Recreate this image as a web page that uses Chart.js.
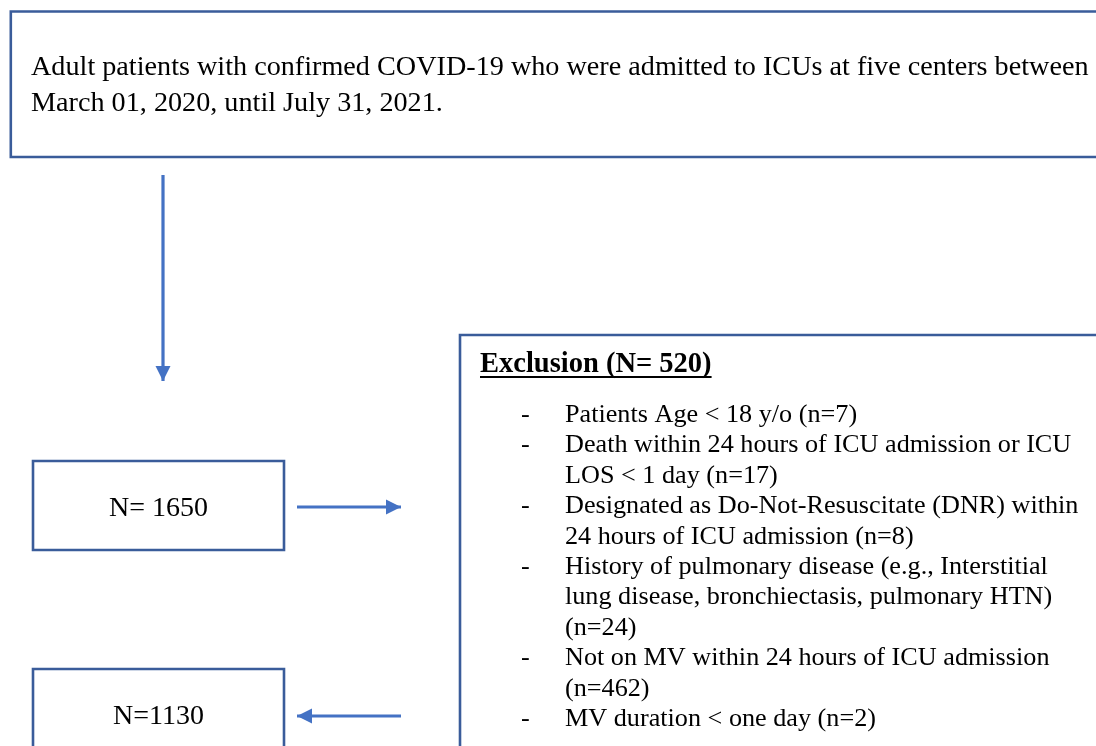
<!DOCTYPE html>
<html>
<head>
<meta charset="utf-8">
<script src="https://cdn.jsdelivr.net/npm/chart.js@4/dist/chart.umd.min.js"></script>
<style>
  html, body { margin: 0; padding: 0; background: #ffffff; }
  #wrap { width: 1096px; height: 746px; position: relative; }
</style>
</head>
<body>
<div id="wrap"><canvas id="c"></canvas></div>
<script>
// ---- Data (content of the flow diagram) ----
const studyPopulationText = [
  'Adult patients with confirmed COVID-19 who were admitted to ICUs at five centers between',
  'March 01, 2020, until July 31, 2021.'
];
const screenedN = 1650;
const includedN = 1130;
const excludedN = 520;
const exclusionCriteria = [
  ['Patients Age < 18 y/o (n=7)'],
  ['Death within 24 hours of ICU admission or ICU', 'LOS < 1 day (n=17)'],
  ['Designated as Do-Not-Resuscitate (DNR) within', '24 hours of ICU admission (n=8)'],
  ['History of pulmonary disease (e.g., Interstitial', 'lung disease, bronchiectasis, pulmonary HTN)', '(n=24)'],
  ['Not on MV within 24 hours of ICU admission', '(n=462)'],
  ['MV duration < one day (n=2)']
];
const exclusionCounts = [7, 17, 8, 24, 462, 2];

// ---- Layout (diagram coordinates on the hidden linear scales) ----
const boxes = [
  { l: 10.8, t: 11.5, r: 1120, b: 157 },   // study population
  { l: 33,   t: 461,  r: 284,  b: 550 },   // N = 1650
  { l: 33,   t: 669,  r: 284,  b: 770 },   // N = 1130
  { l: 460,  t: 335,  r: 1120, b: 770 }    // exclusion
];
const arrows = [
  { x1: 163, y1: 175, x2: 163, y2: 381 },
  { x1: 297, y1: 507, x2: 401, y2: 507 },
  { x1: 401, y1: 716, x2: 297, y2: 716 }
];
const BOX_COLOR = '#3A5C9A';
const ARROW_COLOR = '#4472C4';
const FONT = '"Liberation Serif", "Times New Roman", serif';

function rectPoints(b) {
  return [{x:b.l,y:b.t},{x:b.r,y:b.t},{x:b.r,y:b.b},{x:b.l,y:b.b},{x:b.l,y:b.t}];
}

const datasets = [];
boxes.forEach(b => datasets.push({
  type: 'line', data: rectPoints(b), borderColor: BOX_COLOR, borderWidth: 2.6,
  borderJoinStyle: 'miter', borderCapStyle: 'square', pointRadius: 0, fill: false, tension: 0, clip: false
}));
arrows.forEach(a => datasets.push({
  type: 'line', data: [{x:a.x1,y:a.y1},{x:a.x2,y:a.y2}], borderColor: ARROW_COLOR, borderWidth: 3.2,
  pointRadius: 0, fill: false, tension: 0, clip: false, isArrow: true
}));

const textPlugin = {
  id: 'flowText',
  afterDatasetsDraw(chart) {
    const ctx = chart.ctx;
    const xs = chart.scales.x, ys = chart.scales.y;
    const px = v => xs.getPixelForValue(v), py = v => ys.getPixelForValue(v);

    // arrowheads
    chart.data.datasets.forEach(ds => {
      if (!ds.isArrow) return;
      const p0 = ds.data[0], p1 = ds.data[1];
      const x0 = px(p0.x), y0 = py(p0.y), x1 = px(p1.x), y1 = py(p1.y);
      const ang = Math.atan2(y1 - y0, x1 - x0);
      const len = 15, half = 7.5;
      ctx.save();
      ctx.fillStyle = ARROW_COLOR;
      ctx.beginPath();
      ctx.moveTo(x1, y1);
      ctx.lineTo(x1 - len * Math.cos(ang) + half * Math.sin(ang), y1 - len * Math.sin(ang) - half * Math.cos(ang));
      ctx.lineTo(x1 - len * Math.cos(ang) - half * Math.sin(ang), y1 - len * Math.sin(ang) + half * Math.cos(ang));
      ctx.closePath();
      ctx.fill();
      ctx.restore();
    });

    ctx.save();
    ctx.fillStyle = '#000000';
    ctx.textBaseline = 'alphabetic';

    // study population text
    ctx.font = '28.2px ' + FONT;
    ctx.textAlign = 'left';
    studyPopulationText.forEach((line, i) => ctx.fillText(line, px(31), py(75 + i * 36)));

    // N boxes
    ctx.textAlign = 'center';
    ctx.font = '28px ' + FONT;
    ctx.fillText('N= ' + screenedN, px((boxes[1].l + boxes[1].r) / 2), py(516));
    ctx.fillText('N=' + includedN, px((boxes[2].l + boxes[2].r) / 2), py(724));

    // exclusion heading
    ctx.textAlign = 'left';
    ctx.font = 'bold 28.5px ' + FONT;
    const head = 'Exclusion (N= ' + excludedN + ')';
    ctx.fillText(head, px(480), py(372));
    const w = ctx.measureText(head).width;
    ctx.fillRect(px(480), py(376), w, 2);

    // bullets
    ctx.font = '26.2px ' + FONT;
    let lineIdx = 0;
    exclusionCriteria.forEach(item => {
      item.forEach((line, j) => {
        const y = py(422 + lineIdx * 30.4);
        if (j === 0) ctx.fillText('-', px(521), y);
        ctx.fillText(line, px(565), y);
        lineIdx++;
      });
    });
    ctx.restore();
  }
};

new Chart(document.getElementById('c'), {
  type: 'scatter',
  data: { datasets },
  options: {
    responsive: true,
    maintainAspectRatio: false,
    animation: false,
    layout: { padding: 0 },
    plugins: { legend: { display: false }, tooltip: { enabled: false } },
    scales: {
      x: { type: 'linear', min: 0, max: 1096, display: false },
      y: { type: 'linear', min: 0, max: 746, reverse: true, display: false }
    }
  },
  plugins: [textPlugin]
});
</script>
</body>
</html>
